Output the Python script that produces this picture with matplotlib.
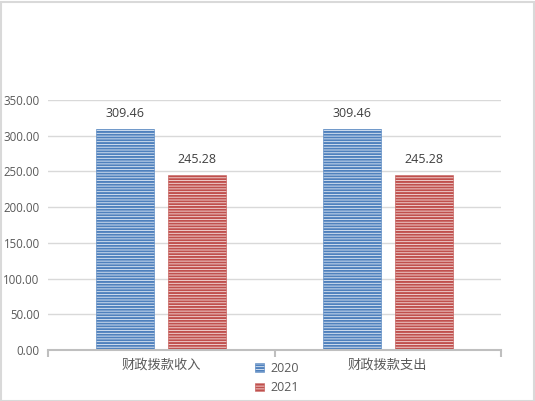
import matplotlib
matplotlib.use("Agg")
import matplotlib.pyplot as plt
from matplotlib.patches import Rectangle
import numpy as np

categories = ["财政拨款收入", "财政拨款支出"]
series_names = ["2020", "2021"]
values_2020 = [309.46, 309.46]
values_2021 = [245.28, 245.28]
yticks = [0, 50, 100, 150, 200, 250, 300, 350]

plt.rcParams['font.family'] = ['Noto Sans CJK SC', 'DejaVu Sans']
plt.rcParams['hatch.linewidth'] = 1.4

W, H = 535, 401
fig = plt.figure(figsize=(W / 100, H / 100), dpi=100)
fig.patches.append(Rectangle((0.5 / W, 0.5 / H), (W - 2) / W, (H - 2) / H,
                             transform=fig.transFigure, fill=False,
                             edgecolor='#d9d9d9', lw=1.5))

ax = fig.add_axes([48 / W, (H - 350) / H, (501 - 48) / W, 250 / H])
x = np.arange(len(categories))
bw = 0.256
off = 0.158
blue = '#4f81bd'
red = '#c0504d'
txt = '#595959'

b1 = ax.bar(x - off, values_2020, bw, facecolor='#e4ecf6', edgecolor=blue,
            hatch='------', lw=0.4, label=series_names[0], zorder=2)
b2 = ax.bar(x + off, values_2021, bw, facecolor='#f6e0df', edgecolor=red,
            hatch='------', lw=0.4, label=series_names[1], zorder=2)

for bars, vals in ((b1, values_2020), (b2, values_2021)):
    for rect, v in zip(bars, vals):
        ax.text(rect.get_x() + rect.get_width() / 2, v + 350 * 0.036,
                f"{v:.2f}", ha='center', va='bottom', fontsize=9,
                color='#404040', family=['Open Sans', 'DejaVu Sans'])

ax.set_xlim(-0.5, 1.5)
ax.set_ylim(0, 350)
ax.set_yticks(yticks)
ax.set_yticklabels([f"{t:.2f}" for t in yticks], fontsize=8.3, color=txt,
                   family=['Open Sans', 'DejaVu Sans'])
ax.yaxis.grid(True, color='#d9d9d9', lw=1)
ax.set_axisbelow(True)
ax.tick_params(axis='y', length=0, pad=6)

ax.set_xticks([-0.5, 0.5, 1.5], minor=False)
ax.set_xticklabels([])
ax.tick_params(axis='x', length=5, width=1.5, color='#bfbfbf', direction='out')
ax.set_xticks(x, minor=True)
ax.set_xticklabels(categories, minor=True, fontsize=9.5, color=txt)
ax.tick_params(axis='x', which='minor', length=0, pad=6)

for s in ['top', 'right', 'left']:
    ax.spines[s].set_visible(False)
ax.spines['bottom'].set_color('#bfbfbf')
ax.spines['bottom'].set_linewidth(1.5)

leg = fig.legend(handles=[b1, b2], labels=series_names, loc='center',
                 bbox_to_anchor=(277 / W, 1 - 378 / H), ncol=1, frameon=False,
                 handlelength=0.7, handleheight=0.7,
                 handletextpad=0.5, labelspacing=0.55,
                 prop={'family': ['Open Sans', 'DejaVu Sans'], 'size': 9})
for t in leg.get_texts():
    t.set_color(txt)

fig.savefig("out.png", dpi=100)
